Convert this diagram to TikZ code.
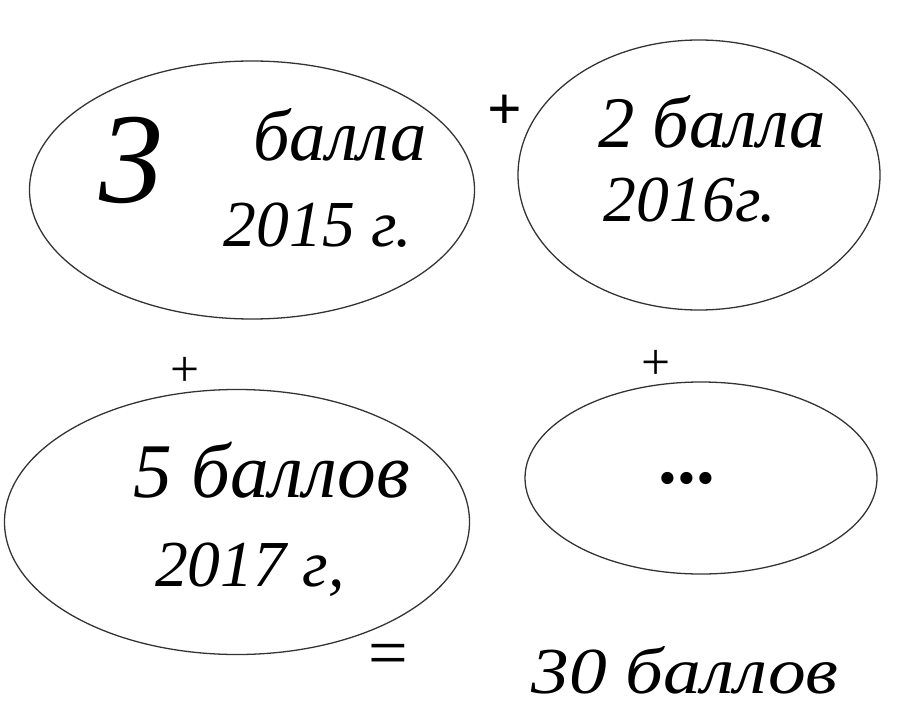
\documentclass[tikz,border=0pt]{standalone}
\usepackage{fontspec}
\setmainfont{Liberation Serif}
\usepackage{tikz}
\usetikzlibrary{shapes.geometric}

\begin{document}
\begin{tikzpicture}[x=0.03cm,y=-0.03cm,
  oval/.style={draw=black!80,line width=1.1pt,ellipse,inner sep=0pt},
  word/.style={font=\fontsize{62}{66}\selectfont\itshape,inner sep=0pt},
  year/.style={font=\fontsize{56}{60}\selectfont\itshape,inner sep=0pt},
  sign/.style={font=\fontsize{44}{48}\selectfont,inner sep=0pt}
]
\useasboundingbox (0,0) rectangle (897,709);
% ovals
\node[oval,minimum width=13.35cm,minimum height=7.74cm] (y15) at (252,190) {};
\node[oval,minimum width=10.86cm,minimum height=8.1cm] (y16) at (699,175) {};
\node[oval,minimum width=13.95cm,minimum height=7.95cm] (y17) at (237,522) {};
\node[oval,minimum width=10.56cm,minimum height=5.76cm] (ymore) at (701,478) {};
% 2015
\node[font=\fontsize{110}{110}\selectfont\itshape,inner sep=0pt] (three) at (132,160) {3};
\node[word] (pts15) at (340,135) {балла};
\node[year] (yr15) at (318,225) {2015 г.};
% 2016
\node[word] (pts16) at (712,122) {2 балла};
\node[year] (yr16) at (690,200) {2016г.};
% 2017
\node[word,font=\fontsize{66}{70}\selectfont\itshape] (pts17) at (272,470) {5 баллов};
\node[year] (yr17) at (250,570) {2017 г,};
% rest
\node[font=\fontsize{64}{64}\selectfont\bfseries,inner sep=0pt] (dots) at (687,478) {...};
% signs
\node[sign,font=\fontsize{52}{54}\selectfont\bfseries] (plusA) at (505,112) {+};
\node[sign] (plusB) at (185,372) {+};
\node[sign] (plusC) at (656,365) {+};
\node[sign,font=\fontsize{60}{60}\selectfont] (eq) at (388,660) {=};
\node[font=\fontsize{56}{60}\selectfont\itshape,inner sep=0pt,xscale=1.15] (total) at (685,670) {30 баллов};
\end{tikzpicture}
\end{document}
